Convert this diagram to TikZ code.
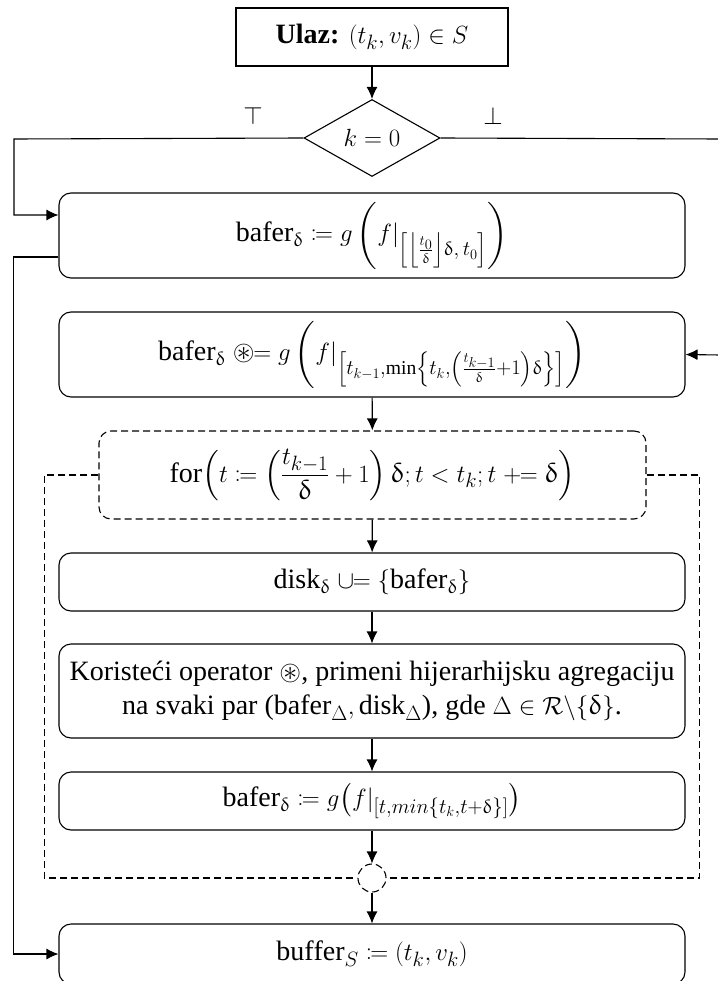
\documentclass[tikz,border=0pt]{standalone}
\usepackage{amsmath,amssymb,mathtools}
\usepackage{upgreek}
\usepackage{fontspec}
\setmainfont{Liberation Serif}
\usetikzlibrary{arrows.meta,shapes.geometric}

\begin{document}
\begin{tikzpicture}[x=1pt,y=-1pt,>={Latex[length=12pt,width=11pt]},line width=1.1pt,
  procbox/.style={draw,rounded corners=12pt,minimum width=626pt,inner sep=2pt,align=center,font=\fontsize{28}{34}\selectfont},
  loopline/.style={dash pattern=on 7pt off 4pt}]
\useasboundingbox (0,0) rectangle (717,981);

\node[draw,minimum width=272pt,minimum height=58pt,font=\fontsize{28}{34}\selectfont] (input) at (372,37) {\textbf{Ulaz:} $(t_k,v_k)\in S$};
\node[draw,diamond,minimum width=136pt,minimum height=77pt,inner sep=0pt,font=\fontsize{28}{34}\selectfont] (cond) at (372,138) {$k=0$};
\node[font=\fontsize{24}{28}\selectfont] (yes) at (253,116) {$\top$};
\node[font=\fontsize{24}{28}\selectfont] (no) at (493,116) {$\bot$};

\node[procbox,minimum height=85pt] (init) at (372,235.5) {$\mathrm{bafer}_{\updelta}\coloneqq g\left(f|_{\left[\left\lfloor\frac{t_0}{\updelta}\right\rfloor\updelta,\,t_0\right]}\right)$};
\node[procbox,minimum height=85pt] (upd) at (372,354.5) {$\mathrm{bafer}_{\updelta}\mathrel{\circledast\!\!=} g\left(f|_{\left[t_{k-1},\mathrm{min}\left\{t_k,\left(\frac{t_{k-1}}{\updelta}+1\right)\updelta\right\}\right]}\right)$};
\node[procbox,loopline,minimum width=547pt,minimum height=88pt] (loop) at (372.5,475) {$\mathrm{for}\!\left(t\coloneqq\left(\dfrac{t_{k-1}}{\updelta}+1\right)\updelta;t<t_k;t\mathrel{+\!\!=}\updelta\right)$};
\node[procbox,minimum height=58pt] (disk) at (372,582) {$\mathrm{disk}_{\updelta}\mathrel{\cup\!\!=}\{\mathrm{bafer}_{\updelta}\}$};
\node[procbox,minimum height=94pt] (agg) at (372,691) {Koristeći operator $\circledast$, primeni hijerarhijsku agregaciju\\na svaki par ($\mathrm{bafer}_\Delta,\mathrm{disk}_\Delta$), gde $\Delta\in\mathcal{R}\backslash\{\updelta\}$.};
\node[procbox,minimum height=58pt] (buf) at (372,801) {$\mathrm{bafer}_{\updelta}\coloneqq g\big(f|_{[t,min\{t_k,t+\updelta\}]}\big)$};
\node[draw,circle,loopline,minimum size=28pt,inner sep=0pt] (join) at (372,878) {};
\node[procbox,minimum height=60pt] (out) at (372,954) {$\mathrm{buffer}_S\coloneqq(t_k,v_k)$};

\coordinate (lefttop) at (14,139);
\coordinate (rightout) at (720,139);
\coordinate (rightin) at (720,355);

% branches of the test
\draw[->] (input) -- (cond);
\draw[->] (cond.west) -- (lefttop) |- ([yshift=20.5pt]init.west);
\draw (cond.east) -- (rightout);
\draw[->] (rightin) -- (upd.east);
\draw[->] ([yshift=-21.5pt]init.west) -- ++(-45,0) |- (out.west);

% loop body
\draw[->] (upd) -- (loop);
\draw[->] (loop) -- (disk);
\draw[->] (disk) -- (agg);
\draw[->] (agg) -- (buf);
\draw[->] (buf) -- (join);
\draw[->] (join) -- (out);
\draw[loopline] (loop.west) -- ++(-54,0) |- (join.west);
\draw[loopline] (loop.east) -- ++(53,0) |- (join.east);
\end{tikzpicture}
\end{document}
